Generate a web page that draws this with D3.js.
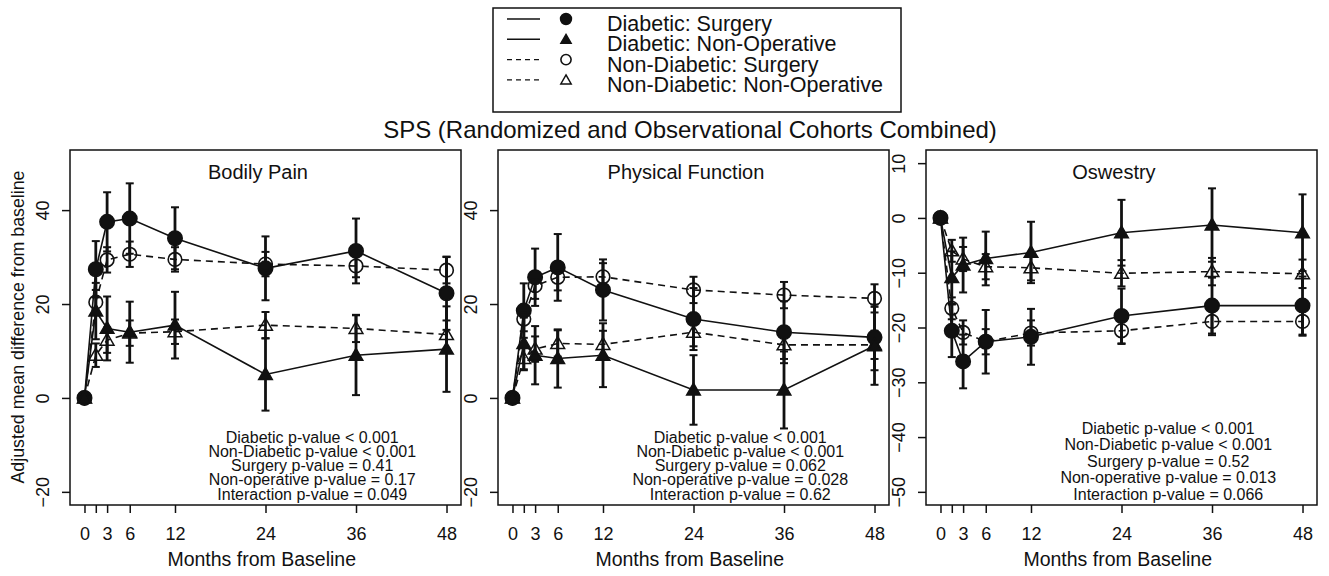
<!DOCTYPE html>
<html>
<head>
<meta charset="utf-8">
<script src="https://cdn.jsdelivr.net/npm/d3@7"></script>
<style>
  body { margin: 0; background: #fff; }
  svg { font-family: "Liberation Sans", Arial, sans-serif; }
</style>
</head>
<body>
<script>
// data //{{{
var months = [0, 1.5, 3, 6, 12, 24, 36, 48];
var xTicks = [0, 1.5, 3, 6, 12, 24, 36, 48];
var xTickLabels = ["0", "", "3", "6", "12", "24", "36", "48"];
var seriesNames = ["Diabetic: Surgery", "Diabetic: Non-Operative", "Non-Diabetic: Surgery", "Non-Diabetic: Non-Operative"];
var panelTitles = ["Bodily Pain", "Physical Function", "Oswestry"];

// Bodily Pain
var painDS  = [0, 27.4, 37.5, 38.2, 34.0, 27.6, 31.3, 22.3];
var painDSe = [0, 6.0, 6.3, 7.5, 6.6, 6.8, 6.9, 7.8];
var painDN  = [0, 18.5, 14.8, 14.0, 15.5, 5.0, 9.1, 10.4];
var painDNe = [0, 6.0, 6.8, 6.5, 7.1, 7.7, 8.5, 9.1];
var painNS  = [0, 20.4, 29.4, 30.6, 29.5, 28.5, 28.1, 27.2];
var painNSe = [0, 2.6, 2.7, 2.7, 2.6, 2.6, 2.4, 2.8];
var painNN  = [0, 9.1, 12.3, 13.8, 14.1, 15.5, 14.8, 13.5];
var painNNe = [0, 2.5, 2.7, 2.7, 2.6, 2.8, 2.9, 3.0];

// Physical Function
var physDS  = [0, 18.6, 25.7, 27.8, 23.0, 16.8, 14.0, 12.9];
var physDSe = [0, 5.8, 6.1, 7.1, 6.5, 6.6, 6.6, 7.0];
var physDN  = [0, 11.6, 9.1, 8.4, 9.1, 1.7, 1.7, 11.1];
var physDNe = [0, 5.5, 6.2, 6.2, 6.8, 7.4, 8.2, 8.3];
var physNS  = [0, 16.8, 23.9, 25.7, 25.8, 23.0, 21.9, 21.2];
var physNSe = [0, 2.6, 2.8, 2.8, 2.9, 2.8, 2.8, 3.0];
var physNN  = [0, 8.4, 10.4, 11.6, 11.4, 14.0, 11.3, 11.3];
var physNNe = [0, 2.5, 2.7, 2.8, 2.9, 3.0, 3.0, 3.0];

// Oswestry
var oswDS  = [0, -20.6, -26.2, -22.6, -21.7, -17.9, -16.0, -16.0];
var oswDSe = [0, 4.8, 4.9, 5.8, 5.1, 5.0, 5.1, 5.3];
var oswDN  = [0, -10.9, -8.6, -7.4, -6.3, -2.7, -1.3, -2.7];
var oswDNe = [0, 4.8, 5.0, 4.9, 5.6, 6.0, 6.7, 7.0];
var oswNS  = [0, -16.5, -20.9, -22.6, -21.0, -20.6, -18.9, -18.9];
var oswNSe = [0, 2.0, 2.2, 2.3, 2.3, 2.4, 2.5, 2.6];
var oswNN  = [0, -6.0, -7.5, -8.9, -9.1, -10.1, -9.8, -10.2];
var oswNNe = [0, 2.0, 2.2, 2.3, 2.3, 2.4, 2.5, 2.6];

var painPvals = ["Diabetic p-value < 0.001", "Non-Diabetic p-value < 0.001", "Surgery p-value = 0.41", "Non-operative p-value = 0.17", "Interaction p-value = 0.049"];
var physPvals = ["Diabetic p-value < 0.001", "Non-Diabetic p-value < 0.001", "Surgery p-value = 0.062", "Non-operative p-value = 0.028", "Interaction p-value = 0.62"];
var oswPvals  = ["Diabetic p-value < 0.001", "Non-Diabetic p-value < 0.001", "Surgery p-value = 0.52", "Non-operative p-value = 0.013", "Interaction p-value = 0.066"];

var painYTicks = [-20, 0, 20, 40];
var physYTicks = [-20, 0, 20, 40];
var oswYTicks  = [-50, -40, -30, -20, -10, 0, 10];
//}}}

var W = 1329, H = 576;
var plotTop = 150, plotBottom = 505, pw = 391;
var lefts = [70, 498, 926];
var styles = [
	{ dash: null,  shape: "circle",   fill: true },
	{ dash: null,  shape: "triangle", fill: true },
	{ dash: "7,5", shape: "circle",   fill: false },
	{ dash: "7,5", shape: "triangle", fill: false }
];

var panels = [
	{ title: panelTitles[0], ydom: [-22.8, 52.8], yticks: painYTicks, pv: painPvals, pvGap: 14.3, pvTop: 437,
	  series: [[painDS, painDSe], [painDN, painDNe], [painNS, painNSe], [painNN, painNNe]] },
	{ title: panelTitles[1], ydom: [-22.8, 52.8], yticks: physYTicks, pv: physPvals, pvGap: 14.3, pvTop: 437,
	  series: [[physDS, physDSe], [physDN, physDNe], [physNS, physNSe], [physNN, physNNe]] },
	{ title: panelTitles[2], ydom: [-52.4, 12.4], yticks: oswYTicks, pv: oswPvals, pvGap: 16.5, pvTop: 428,
	  series: [[oswDS, oswDSe], [oswDN, oswDNe], [oswNS, oswNSe], [oswNN, oswNNe]] }
];

var svg = d3.select("body").append("svg").attr("width", W).attr("height", H);
var ink = "#111";

function marker(g, st, x, y, big) {
	var k = big ? 1 : 0.75;
	if (st.shape == "circle") {
		g.append("circle").attr("cx", x).attr("cy", y).attr("r", (st.fill ? 7.2 : 6.8) * k)
			.attr("fill", st.fill ? ink : "none").attr("stroke", ink).attr("stroke-width", 1.6);
	} else {
		g.append("path").attr("transform", "translate(" + x + "," + (y + 1) + ")")
			.attr("d", d3.symbol(d3.symbolTriangle, (st.fill ? 80 : 82) * k * k)())
			.attr("fill", st.fill ? ink : "none").attr("stroke", ink).attr("stroke-width", 1.5);
	}
}

// legend //{{{
var lg = svg.append("g");
lg.append("rect").attr("x", 493).attr("y", 8).attr("width", 408).attr("height", 104)
	.attr("fill", "none").attr("stroke", ink).attr("stroke-width", 1.5);
seriesNames.forEach(function(name, i) {
	var yy = 19 + i * 20.3;
	var st = styles[i];
	lg.append("line").attr("x1", 507).attr("x2", 540).attr("y1", yy).attr("y2", yy)
		.attr("stroke", ink).attr("stroke-width", 1.4).attr("stroke-dasharray", st.dash ? "5,4" : null);
	marker(lg, st, 566, yy, false);
	lg.append("text").attr("x", 607).attr("y", yy + 12).attr("font-size", 21.5).attr("fill", ink).text(name);
});
//}}}

svg.append("text").attr("x", 690).attr("y", 138).attr("text-anchor", "middle")
	.attr("font-size", 24).attr("fill", ink).text("SPS (Randomized and Observational Cohorts Combined)");

svg.append("text").attr("transform", "translate(24," + 327 + ") rotate(-90)")
	.attr("text-anchor", "middle").attr("font-size", 17.8).attr("fill", ink)
	.text("Adjusted mean difference from baseline");

panels.forEach(function(p, pi) {
	var x = d3.scaleLinear().domain([-1.92, 49.92]).range([lefts[pi], lefts[pi] + pw]);
	var y = d3.scaleLinear().domain(p.ydom).range([plotBottom, plotTop]);
	var g = svg.append("g");

	// axes
	var xa = g.append("g").attr("transform", "translate(0," + plotBottom + ")")
		.call(d3.axisBottom(x).tickValues(xTicks).tickSize(8).tickPadding(14)
			.tickFormat(function(d, i) { return xTickLabels[i]; }));
	xa.select(".domain").remove();
	xa.selectAll("line").attr("stroke", ink).attr("stroke-width", 1.5);
	xa.selectAll("text").attr("font-size", 18).attr("font-family", "Liberation Sans, Arial, sans-serif").attr("fill", ink);

	var ya = g.append("g").attr("transform", "translate(" + lefts[pi] + ",0)")
		.call(d3.axisLeft(y).tickValues(p.yticks).tickSize(8).tickFormat(d3.format("d")));
	ya.select(".domain").remove();
	ya.selectAll("line").attr("stroke", ink).attr("stroke-width", 1.5);
	ya.selectAll("text").attr("font-size", 18).attr("font-family", "Liberation Sans, Arial, sans-serif").attr("fill", ink)
		.attr("x", null).attr("text-anchor", "middle")
		.attr("transform", "translate(-27,0) rotate(-90)").attr("dy", "0.35em");

	g.append("rect").attr("x", lefts[pi]).attr("y", plotTop).attr("width", pw).attr("height", plotBottom - plotTop)
		.attr("fill", "none").attr("stroke", ink).attr("stroke-width", 1.5);

	g.append("text").attr("x", x(23)).attr("y", 179).attr("text-anchor", "middle")
		.attr("font-size", 20).attr("fill", ink).text(p.title);

	g.append("text").attr("x", x(23.5)).attr("y", 566).attr("text-anchor", "middle")
		.attr("font-size", 19.5).attr("fill", ink).text("Months from Baseline");

	var line = d3.line().x(function(d, i) { return x(months[i]); }).y(function(d) { return y(d); });

	// lines
	p.series.forEach(function(s, si) {
		g.append("path").attr("d", line(s[0])).attr("fill", "none").attr("stroke", ink)
			.attr("stroke-width", 1.6).attr("stroke-dasharray", styles[si].dash);
	});
	// error bars
	p.series.forEach(function(s, si) {
		s[0].forEach(function(v, i) {
			if (!s[1][i]) return;
			var xx = x(months[i]), y1 = y(v + s[1][i]), y2 = y(v - s[1][i]);
			g.append("line").attr("x1", xx).attr("x2", xx).attr("y1", y1).attr("y2", y2)
				.attr("stroke", ink).attr("stroke-width", 2.8);
			[y1, y2].forEach(function(yy) {
				g.append("line").attr("x1", xx - 4).attr("x2", xx + 4).attr("y1", yy).attr("y2", yy)
					.attr("stroke", ink).attr("stroke-width", 2);
			});
		});
	});
	// points
	p.series.forEach(function(s, si) {
		s[0].forEach(function(v, i) { marker(g, styles[si], x(months[i]), y(v), true); });
	});

	// p-values
	p.pv.forEach(function(t, i) {
		g.append("text").attr("x", x(30.2)).attr("y", p.pvTop + i * p.pvGap + 5.5).attr("text-anchor", "middle")
			.attr("font-size", 16).attr("fill", ink).text(t);
	});
});
</script>
</body>
</html>
